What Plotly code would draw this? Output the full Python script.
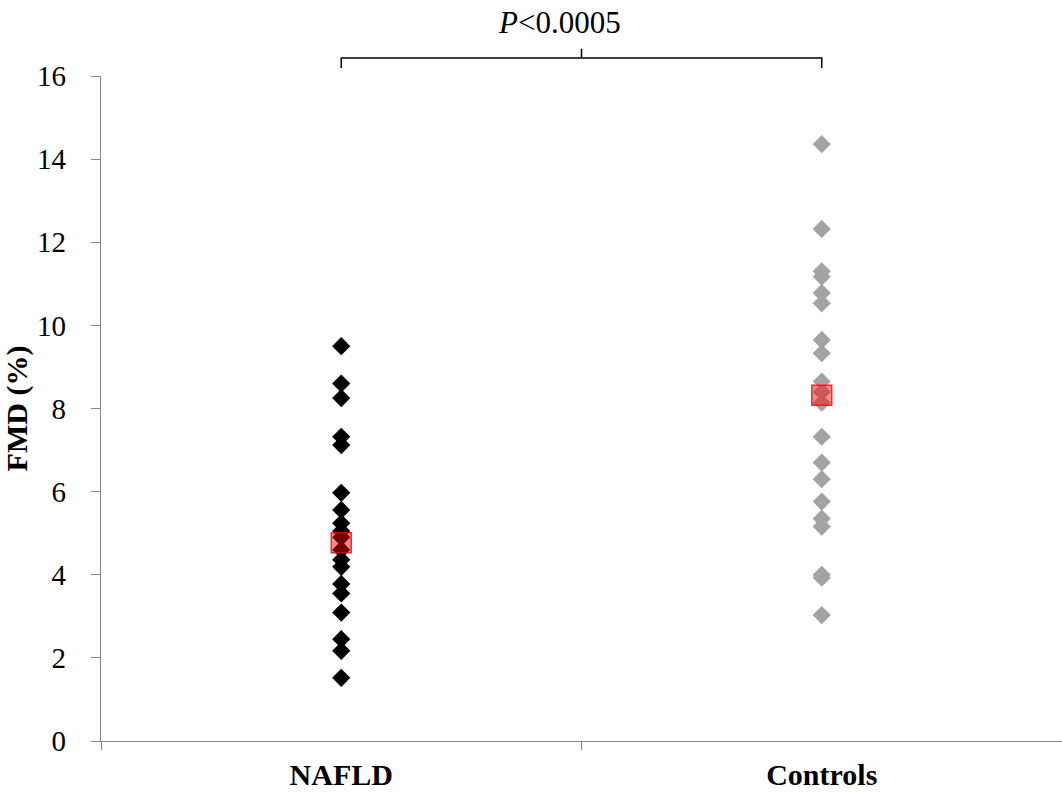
import plotly.graph_objects as go

categories = ["NAFLD", "Controls"]
nafld_fmd = [9.50, 8.60, 8.25, 7.32, 7.12, 5.97, 5.56, 5.24, 5.05, 4.90, 4.60, 4.36, 4.19, 3.78, 3.55, 3.09, 2.45, 2.17, 1.52]
controls_fmd = [14.36, 12.32, 11.30, 11.17, 10.78, 10.53, 9.65, 9.33, 8.65, 8.40, 8.14, 7.32, 6.70, 6.30, 5.76, 5.35, 5.16, 4.00, 3.93, 3.03]
means = [4.77, 8.32]
p_text = "<i>P</i><0.0005"

FONT = "Liberation Serif, Times New Roman, serif"

fig = go.Figure()
fig.add_trace(go.Scatter(x=[1] * len(nafld_fmd), y=nafld_fmd, mode="markers",
                         marker=dict(symbol="diamond", size=14, color="black"),
                         showlegend=False, hoverinfo="y"))
fig.add_trace(go.Scatter(x=[2] * len(controls_fmd), y=controls_fmd, mode="markers",
                         marker=dict(symbol="diamond", size=14, color="#A3A3A3"),
                         showlegend=False, hoverinfo="y"))
fig.add_trace(go.Scatter(x=[1, 2], y=means, mode="markers",
                         marker=dict(symbol="square", size=20, color="rgba(255,0,0,0.45)",
                                     line=dict(color="rgba(255,0,0,0.8)", width=1.5)),
                         showlegend=False, hoverinfo="y"))
# dummy for label axis
fig.add_trace(go.Scatter(x=[1, 2], y=[None, None], xaxis="x2", showlegend=False, hoverinfo="skip"))

fig.update_layout(
    width=1062, height=792,
    margin=dict(l=101, r=0, t=76, b=51, autoexpand=False),
    paper_bgcolor="white", plot_bgcolor="white",
    font=dict(family=FONT, color="black", size=30),
    xaxis=dict(range=[0.5, 2.5], tickvals=[0.5, 1.5, 2.5], ticks="outside", ticklen=8,
               tickcolor="#868686", showticklabels=False, showline=True, linecolor="#868686",
               linewidth=1.3, showgrid=False, zeroline=False, fixedrange=True),
    xaxis2=dict(range=[0.5, 2.5], overlaying="x", side="bottom", tickvals=[1, 2],
                ticktext=[f"<b>{c}</b>" for c in categories], ticks="", showline=False,
                showgrid=False, zeroline=False, ticklabelstandoff=13,
                tickfont=dict(family=FONT, size=30, color="black")),
    yaxis=dict(range=[0, 16], dtick=2, ticks="outside", ticklen=9, tickcolor="#868686",
               showline=True, linecolor="#868686", linewidth=1.3, showgrid=False,
               zeroline=False, ticklabelstandoff=19, automargin=False,
               tickfont=dict(family=FONT, size=29, color="black"),
               title=dict(text="<b>FMD (%)</b>", font=dict(family=FONT, size=30), standoff=1)),
)

# significance bracket
y_low, y_high, y_mid = 1.012, 1.027, 1.041
fig.add_shape(type="path", xref="x", yref="paper",
              path=f"M 1,{y_low} L 1,{y_high} L 2,{y_high} L 2,{y_low}",
              line=dict(color="black", width=1.5))
fig.add_shape(type="line", xref="x", yref="paper", x0=1.5, x1=1.5, y0=y_high, y1=y_mid,
              line=dict(color="black", width=1.5))
fig.add_annotation(x=1.455, y=1.08, xref="x", yref="paper", text=p_text, showarrow=False,
                   font=dict(family=FONT, size=31, color="black"), yanchor="middle")

fig.write_html("out.html", config={"displayModeBar": False},
               post_script="document.body.style.margin='0';")
